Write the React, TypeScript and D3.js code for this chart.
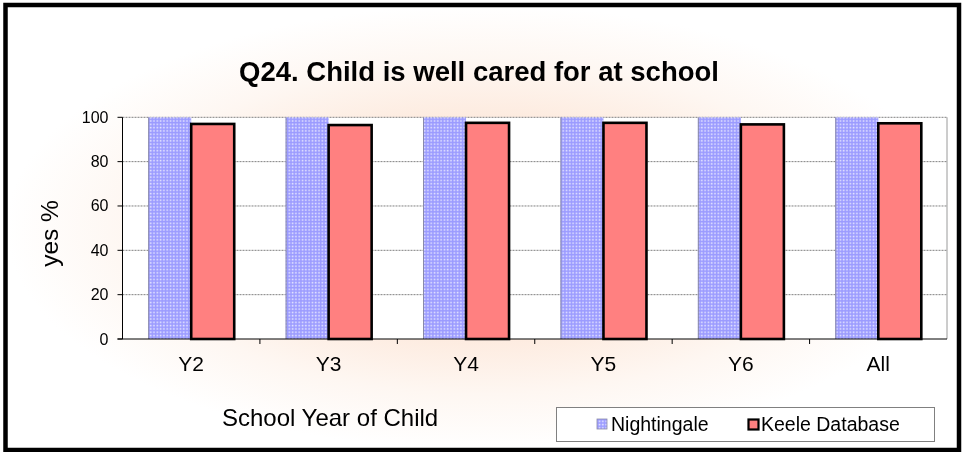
import React from 'react';
import * as d3 from 'd3';

const categories = ['Y2', 'Y3', 'Y4', 'Y5', 'Y6', 'All'];
const seriesNames = ['Nightingale', 'Keele Database'];
const nightingale = [100, 100, 100, 100, 100, 100];
const keele = [97, 96.5, 97.5, 97.5, 96.8, 97.3];
const yTicks = [0, 20, 40, 60, 80, 100];

const W = 963;
const H = 452;
const FONT = "'Liberation Sans', Arial, sans-serif";

const App = () => {
  const plot = { left: 122.5, right: 947, top: 117.3, bottom: 339 };

  const x0 = d3.scaleBand<string>()
    .domain(categories)
    .range([plot.left, plot.right])
    .paddingInner(0.374)
    .paddingOuter(0.187);

  const x1 = d3.scaleBand<string>()
    .domain(seriesNames)
    .range([0, x0.bandwidth()])
    .padding(0);

  const y = d3.scaleLinear().domain([0, 100]).range([plot.bottom, plot.top]);

  const step = x0.step();
  const boundaries = d3.range(1, categories.length).map(i => plot.left + i * step);

  return (
    <svg width={W} height={H} style={{ position: 'fixed', left: 0, top: 0 }} fontFamily={FONT}>
      <defs>
        <radialGradient id="bg" cx="0.5" cy="0.5" r="0.5">
          <stop offset="0" stopColor="#fcdcc6" />
          <stop offset="0.45" stopColor="#fde9dc" />
          <stop offset="0.75" stopColor="#fef7f2" />
          <stop offset="1" stopColor="#ffffff" />
        </radialGradient>
        <pattern id="dots" width="3.3" height="3.3" patternUnits="userSpaceOnUse">
          <rect width="3.3" height="3.3" fill="#9b9bff" />
          <rect x="1.4" y="1.4" width="1.6" height="1.6" fill="#e4e4ff" />
        </pattern>
      </defs>

      <rect x={5.5} y={5} width={953.5} height={445} fill="url(#bg)" stroke="#000" strokeWidth={4.5} />

      <text x={479} y={81} textAnchor="middle" fontSize={27.5} fontWeight="bold" fill="#000">
        Q24. Child is well cared for at school
      </text>

      {/* plot area */}
      <rect x={plot.left} y={plot.top} width={plot.right - plot.left} height={plot.bottom - plot.top} fill="#fff" />
      {yTicks.filter(t => t > 0).map(t => (
        <line key={t} x1={plot.left} x2={plot.right} y1={y(t)} y2={y(t)}
          stroke="#808080" strokeWidth={1} strokeDasharray="2,1" />
      ))}
      <line x1={plot.right} x2={plot.right} y1={plot.top} y2={plot.bottom} stroke="#9a9a9a" strokeWidth={1} />

      {categories.map((c, i) => (
        <g key={c}>
          <rect x={x0(c)! + x1('Nightingale')!} y={y(nightingale[i])} width={x1.bandwidth()}
            height={y(0) - y(nightingale[i])} fill="url(#dots)" />
          <line x1={x0(c)! + 0.5} x2={x0(c)! + 0.5} y1={y(nightingale[i])} y2={y(0)} stroke="#8a8aa8" strokeWidth={1} />
          <rect x={x0(c)! + x1('Keele Database')!} y={y(keele[i])} width={x1.bandwidth()}
            height={y(0) - y(keele[i])} fill="#ff8080" stroke="#000" strokeWidth={2.6} />
        </g>
      ))}

      {/* axes */}
      <line x1={plot.left} x2={plot.left} y1={plot.top} y2={plot.bottom} stroke="#000" strokeWidth={1} />
      <line x1={plot.left - 5} x2={plot.right} y1={plot.bottom} y2={plot.bottom} stroke="#000" strokeWidth={1} />
      {yTicks.map(t => (
        <g key={t}>
          <line x1={plot.left - 5} x2={plot.left} y1={y(t)} y2={y(t)} stroke="#000" strokeWidth={1} />
          <text x={plot.left - 14} y={y(t) + 5.5} textAnchor="end" fontSize={16} fill="#000">{t}</text>
        </g>
      ))}
      {boundaries.map((b, i) => (
        <line key={i} x1={b} x2={b} y1={plot.bottom} y2={plot.bottom + 5} stroke="#000" strokeWidth={1} />
      ))}
      {categories.map(c => (
        <text key={c} x={x0(c)! + x0.bandwidth() / 2} y={371} textAnchor="middle" fontSize={21} fill="#000">{c}</text>
      ))}

      <text transform="translate(58,233.5) rotate(-90)" textAnchor="middle" fontSize={24.5} fill="#000">yes %</text>
      <text x={222} y={426} fontSize={24} fill="#000">School Year of Child</text>

      {/* legend */}
      <rect x={556.5} y={407.5} width={378} height={34} fill="#fff" stroke="#808080" strokeWidth={1} />
      <rect x={597} y={419} width={10} height={10} fill="url(#dots)" stroke="#8a8aa8" strokeWidth={0.8} />
      <text x={611} y={431} fontSize={19.5} fill="#000">{seriesNames[0]}</text>
      <rect x={748.5} y={419.5} width={10} height={10} fill="#ff8080" stroke="#000" strokeWidth={2.2} />
      <text x={761} y={431} fontSize={19.5} fill="#000">{seriesNames[1]}</text>
    </svg>
  );
};

export default App;
